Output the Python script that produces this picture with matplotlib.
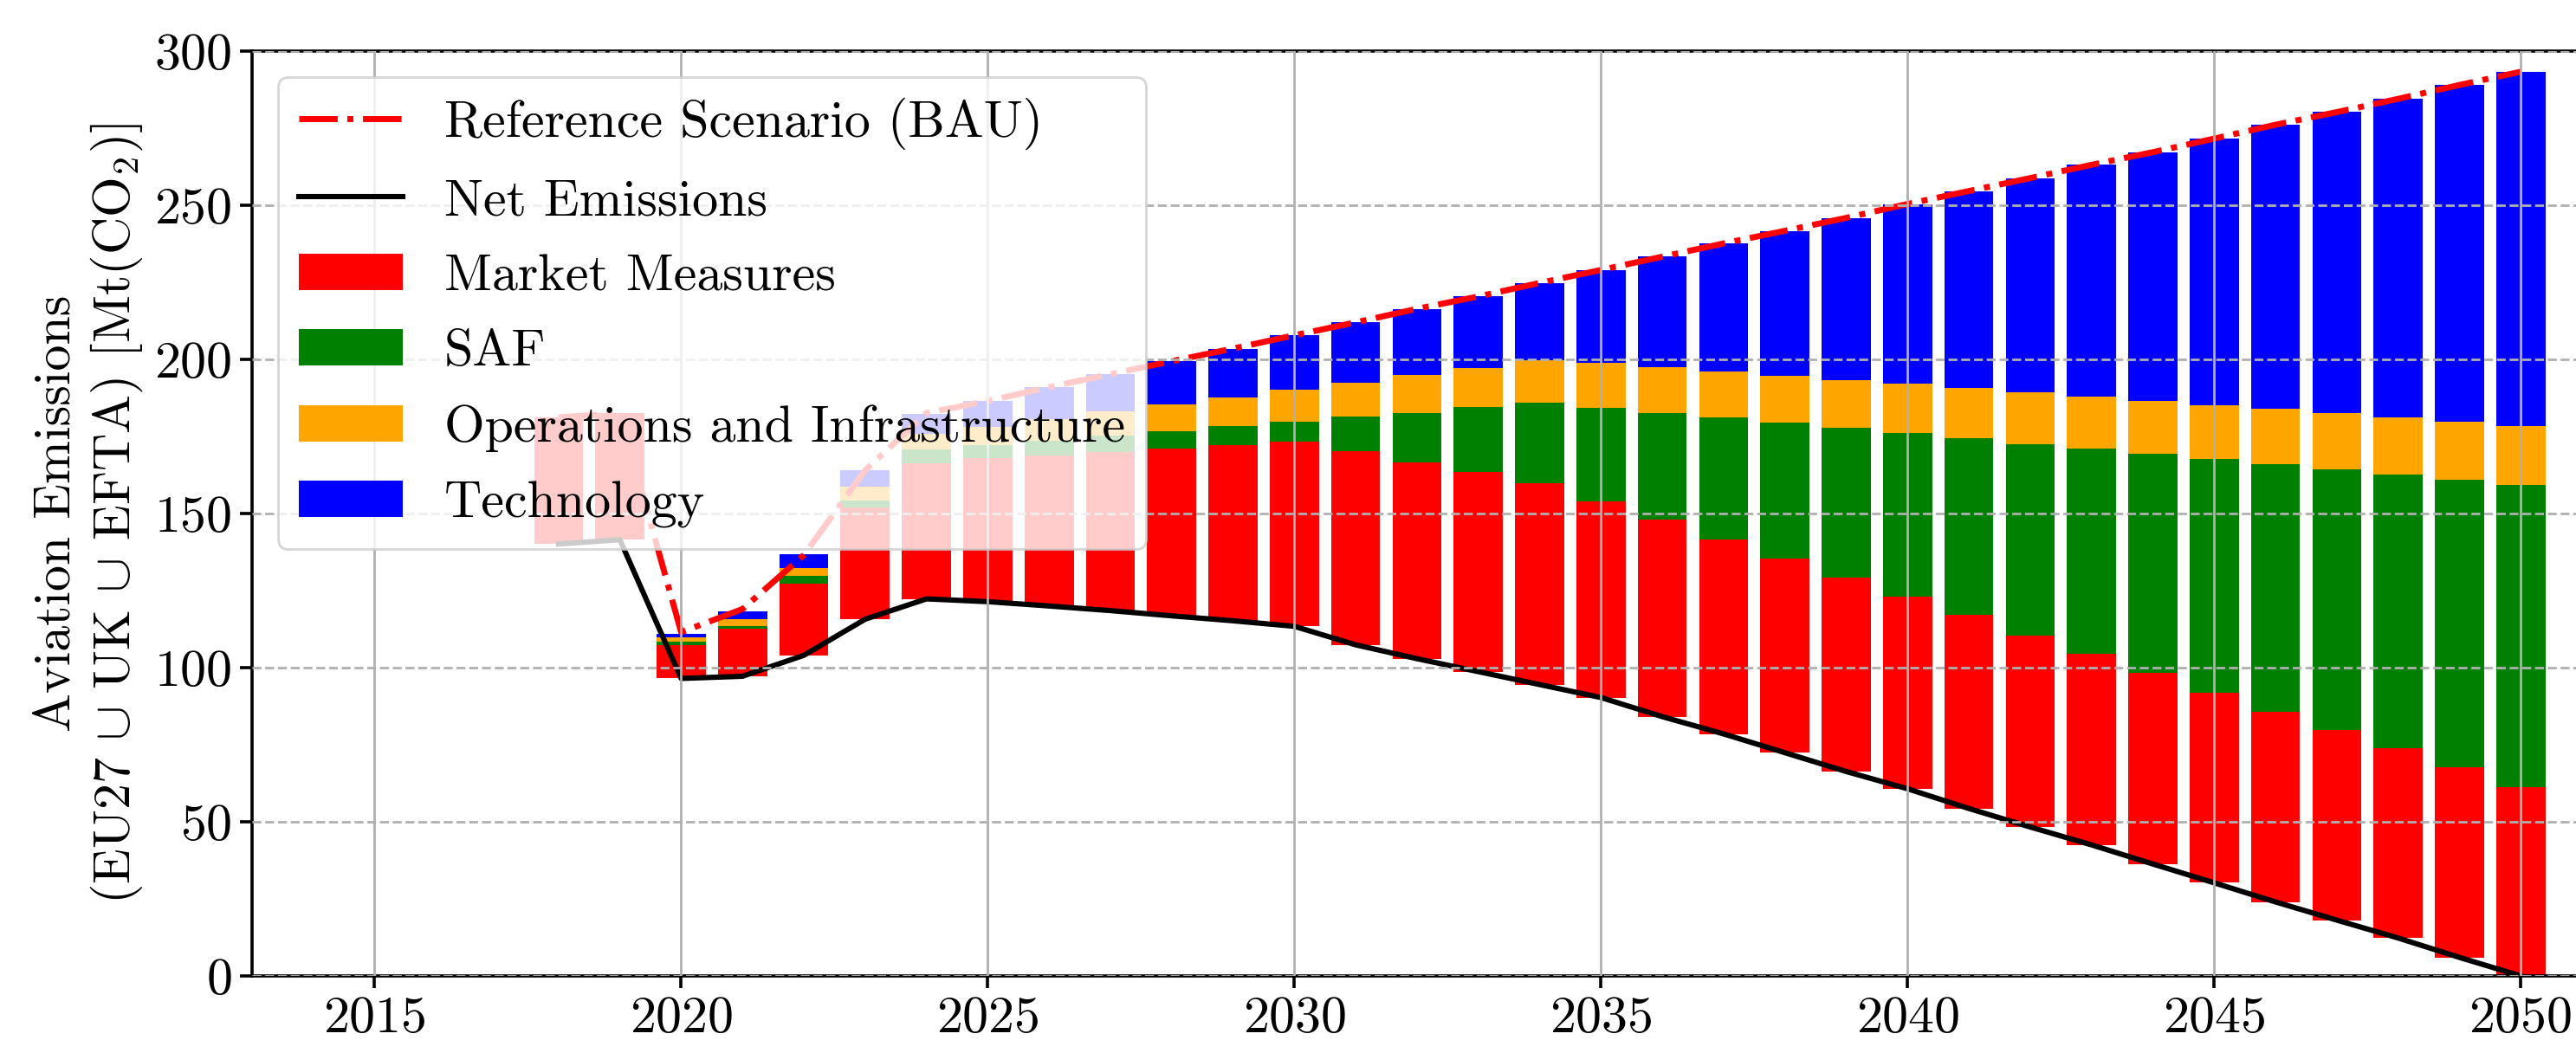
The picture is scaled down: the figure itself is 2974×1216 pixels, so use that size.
import numpy as np
import matplotlib
matplotlib.use("Agg")
import matplotlib.pyplot as plt

plt.rcParams['font.family'] = 'serif'
plt.rcParams['font.serif'] = ['cmr10']
plt.rcParams['mathtext.fontset'] = 'cm'
plt.rcParams['axes.formatter.use_mathtext'] = True

years = np.arange(2018, 2051)

# Mt CO2
net = [140.1, 141.5, 96.5, 97.2, 104.0, 115.7, 122.3, 121.4, 120.0, 118.5, 116.8,
       115.2, 113.4, 107.4, 102.9, 98.7, 94.5, 90.3, 84.1, 78.5, 72.4, 66.3, 60.7,
       54.3, 48.3, 42.5, 36.3, 30.2, 24.0, 18.1, 12.3, 6.0, 0.0]
market = [41.1, 41.0, 10.7, 15.4, 23.3, 36.2, 44.1, 46.6, 48.8, 51.5, 54.3, 56.9,
          59.9, 62.7, 63.7, 64.8, 65.4, 63.6, 63.8, 63.1, 63.0, 63.0, 62.3, 62.7,
          62.1, 61.9, 61.9, 61.7, 61.7, 61.7, 61.7, 61.7, 61.3]
saf = [0, 0, 1.1, 1.0, 2.4, 2.3, 4.4, 4.3, 4.9, 5.2, 5.6, 6.2, 6.4, 11.3, 16.1,
       21.0, 26.0, 30.3, 34.7, 39.6, 44.2, 48.5, 53.2, 57.3, 62.1, 66.7, 71.3,
       75.9, 80.3, 84.5, 88.7, 93.3, 97.9]
ops = [0, 0, 1.4, 2.2, 2.7, 4.5, 5.1, 5.9, 6.9, 8.0, 8.7, 9.3, 10.4, 10.9, 12.2,
       12.6, 13.8, 14.7, 14.8, 14.8, 15.0, 15.4, 15.9, 16.4, 16.8, 16.8, 17.0,
       17.4, 18.0, 18.3, 18.6, 18.7, 19.1]
tech = [0, 0, 1.2, 2.5, 4.4, 5.4, 6.3, 8.3, 10.4, 12.0, 14.0, 15.9, 17.7, 19.7,
        21.5, 23.3, 25.1, 30.1, 35.9, 41.6, 47.1, 52.7, 58.3, 63.9, 69.5, 75.2,
        80.7, 86.4, 92.1, 97.6, 103.2, 109.3, 115.0]
bau = [181.2, 182.5, 111.5, 119.0, 136.5, 164.0, 182.6, 186.5, 191.0, 195.2,
       199.4, 203.5, 207.8, 212.0, 216.4, 220.4, 224.8, 229.0, 233.3, 237.6,
       241.7, 245.9, 250.4, 254.6, 258.8, 263.1, 267.2, 271.6, 276.1, 280.2,
       284.5, 289.0, 293.3]

fs = 21.6
fig = plt.figure(figsize=(14.87, 6.08), dpi=200)
ax = fig.add_axes([0.0978, 0.0732, 0.9022, 0.8783])

b0 = np.array(net)
b1 = b0 + np.array(market)
b2 = b1 + np.array(saf)
b3 = b2 + np.array(ops)
p1 = ax.bar(years, market, bottom=b0, color='red', width=0.8)
p2 = ax.bar(years, saf, bottom=b1, color='green', width=0.8)
p3 = ax.bar(years, ops, bottom=b2, color='orange', width=0.8)
p4 = ax.bar(years, tech, bottom=b3, color='blue', width=0.8)

l1, = ax.plot(years, bau, 'r-.', lw=2.5)
l2, = ax.plot(years, net, 'k-', lw=2.2)

ax.set_xlim(2013, 2050.9)
ax.set_ylim(0, 300)
ax.set_xticks(np.arange(2015, 2051, 5))
ax.set_yticks(np.arange(0, 301, 50))
ax.grid(axis='x', color='#b0b0b0', lw=1.0)
ax.grid(axis='y', color='#b0b0b0', lw=1.0, ls='--')
ax.set_axisbelow(False)
ax.spines['right'].set_visible(False)
for s in ['top', 'left', 'bottom']:
    ax.spines[s].set_linewidth(1.3)
ax.tick_params(labelsize=fs, width=1.3, length=5)

ax.set_ylabel('Aviation Emissions\n(EU27 $\\cup$ UK $\\cup$ EFTA) [Mt(CO$_2$)]', fontsize=fs)

ax.legend([l1, l2, p1, p2, p3, p4],
          ['Reference Scenario (BAU)', 'Net Emissions', 'Market Measures', 'SAF',
           'Operations and Infrastructure', 'Technology'],
          loc='upper left', fontsize=fs, handlelength=2.0, labelspacing=0.55)

fig.savefig('out.png', dpi=200)
